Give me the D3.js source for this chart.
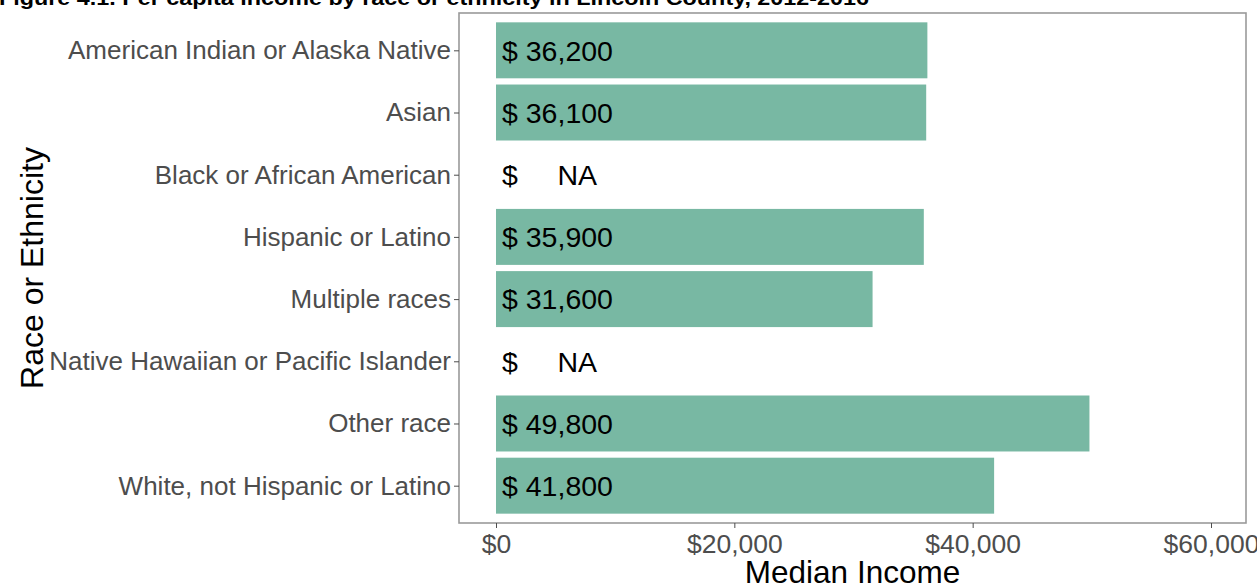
<!DOCTYPE html>
<html>
<head>
<meta charset="utf-8">
<script src="https://cdn.jsdelivr.net/npm/d3@7"></script>
<style>
  body { margin: 0; background: #fff; }
  text { font-family: "Liberation Sans", Arial, sans-serif; }
</style>
</head>
<body>
<svg id="chart" width="1257" height="585"></svg>
<script>
(function () {

  // categories top to bottom
  var groups = [
    'American Indian or Alaska Native',
    'Asian',
    'Black or African American',
    'Hispanic or Latino',
    'Multiple races',
    'Native Hawaiian or Pacific Islander',
    'Other race',
    'White, not Hispanic or Latino'
  ]

  // median income, null = NA
  var income = [36200, 36100, null, 35900, 31600, null, 49800, 41800]

  var xTicks = [0, 20000, 40000, 60000]

  var title = 'Figure 4.1. Per capita income by race or ethnicity in Lincoln County, 2012-2016'

  var rows = groups.map(function (g, i) {
    return { name: g, value: income[i] }
  })

  var panel = { left: 459, right: 1246, top: 13, bottom: 523 }

  var svg = d3.select('#chart')

  var xScale = d3.scaleLinear().domain([0, 60000]).range([496, 1211])
  var yScale = d3.scalePoint().domain(groups).range([panel.top, panel.bottom]).padding(0.6)
  var barH = yScale.step() * 0.9

  // title, cut off at the top like the source image
  svg.append('text')
    .attr('x', -1)
    .attr('y', 5)
    .attr('font-weight', 'bold')
    .attr('font-size', 20)
    .attr('textLength', 870)
    .attr('lengthAdjust', 'spacingAndGlyphs')
    .text(title)

  // bars
  svg.selectAll('rect.bar')
    .data(rows.filter(d => d.value != null))
    .enter().append('rect')
    .attr('class', 'bar')
    .attr('x', xScale(0))
    .attr('y', d => yScale(d.name) - barH / 2)
    .attr('width', d => xScale(d.value) - xScale(0))
    .attr('height', barH)
    .attr('fill', '#78b8a3')

  // value labels
  var fmt = d3.format(',')
  svg.selectAll('text.val')
    .data(rows)
    .enter().append('text')
    .attr('class', 'val')
    .attr('x', xScale(0) + 6)
    .attr('y', d => yScale(d.name))
    .attr('dy', '0.36em')
    .attr('font-size', 28.5)
    .attr('fill', '#000')
    .style('white-space', 'pre')
    .text(d => d.value == null ? '$     NA' : '$ ' + fmt(d.value))

  // panel border
  svg.append('rect')
    .attr('x', panel.left)
    .attr('y', panel.top)
    .attr('width', panel.right - panel.left)
    .attr('height', panel.bottom - panel.top)
    .attr('fill', 'none')
    .attr('stroke', '#9a9a9a')
    .attr('stroke-width', 1.6)

  // y axis
  var yAxis = svg.append('g')
    .attr('transform', 'translate(' + panel.left + ',0)')
    .call(d3.axisLeft(yScale).tickSize(5).tickPadding(3))
  yAxis.select('.domain').remove()
  yAxis.selectAll('line').attr('stroke', '#4d4d4d')
  yAxis.selectAll('text')
    .attr('font-size', 26)
    .attr('fill', '#4d4d4d')
    .style('font-family', '"Liberation Sans", Arial, sans-serif')

  // x axis
  var xAxis = svg.append('g')
    .attr('transform', 'translate(0,' + panel.bottom + ')')
    .call(d3.axisBottom(xScale).tickValues(xTicks).tickSize(5).tickPadding(6)
      .tickFormat(d => '$' + fmt(d)))
  xAxis.select('.domain').remove()
  xAxis.selectAll('line').attr('stroke', '#4d4d4d')
  xAxis.selectAll('text')
    .attr('font-size', 26.5)
    .attr('fill', '#4d4d4d')
    .style('font-family', '"Liberation Sans", Arial, sans-serif')

  // axis titles
  svg.append('text')
    .attr('x', (panel.left + panel.right) / 2)
    .attr('y', 583)
    .attr('text-anchor', 'middle')
    .attr('font-size', 31.5)
    .text('Median Income')

  svg.append('text')
    .attr('transform', 'translate(43,' + ((panel.top + panel.bottom) / 2) + ') rotate(-90)')
    .attr('text-anchor', 'middle')
    .attr('font-size', 32)
    .text('Race or Ethnicity')

})()
</script>
</body>
</html>
